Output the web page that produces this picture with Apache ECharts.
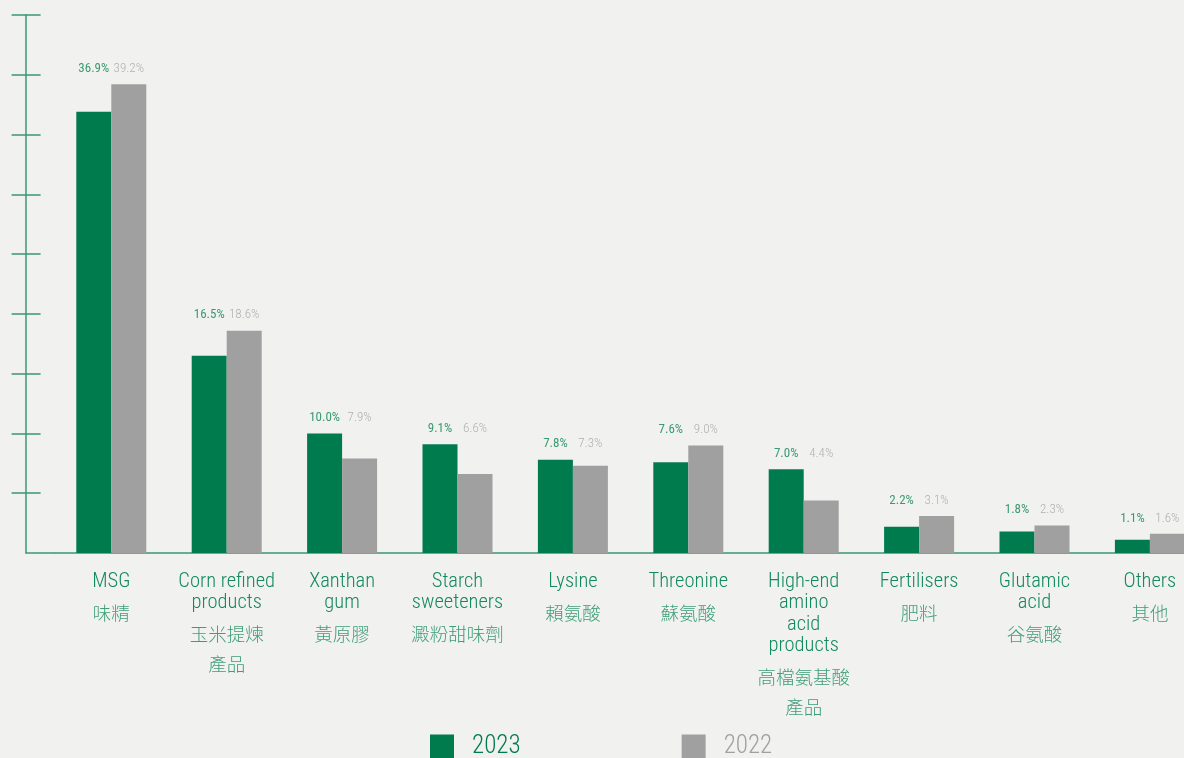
<!DOCTYPE html>
<html>
<head>
<meta charset="utf-8">
<script src="https://cdn.jsdelivr.net/npm/echarts@6/dist/echarts.min.js"></script>
<style>
  html, body { margin: 0; padding: 0; background: #f1f1f0; }
  #chart { width: 1184px; height: 758px; }
</style>
</head>
<body>
<div id="chart"></div>
<script>
  // categories (English / Chinese)
  const categoriesEn = ['MSG', 'Corn refined\nproducts', 'Xanthan\ngum', 'Starch\nsweeteners', 'Lysine',
    'Threonine', 'High-end\namino\nacid\nproducts', 'Fertilisers', 'Glutamic\nacid', 'Others']
  const categoriesZh = ['味精', '玉米提煉\n產品', '黃原膠', '澱粉甜味劑', '賴氨酸',
    '蘇氨酸', '高檔氨基酸\n產品', '肥料', '谷氨酸', '其他']
  // revenue share, %
  const share2023 = [36.9, 16.5, 10.0, 9.1, 7.8, 7.6, 7.0, 2.2, 1.8, 1.1]
  const share2022 = [39.2, 18.6, 7.9, 6.6, 7.3, 9.0, 4.4, 3.1, 2.3, 1.6]
  const yTicks = [5, 10, 15, 20, 25, 30, 35, 40, 45]

  const GREEN = '#007b4e'
  const GREY = '#a0a0a0'
  const AXIS = '#3a9872'
  const GRID_LEFT = 53.6
  const Y_OFFSET = 28
  const GRID_BOTTOM = 205
  const NARROW = "'Roboto Condensed', 'Roboto', sans-serif"

  // label spot = the taller bar of each pair
  const groupTop = share2023.map((v, i) => Math.max(v, share2022[i]))

  let myChart = echarts.init(document.getElementById('chart'))

  const yAxisBase = {
    type: 'value', min: 0, max: 45, interval: 5,
    position: 'left', offset: Y_OFFSET,
    axisLabel: { show: false },
    splitLine: { show: false }
  }

  myChart.setOption({
    backgroundColor: '#f1f1f0',
    animation: false,
    grid: { left: GRID_LEFT, width: 1154, top: 15, bottom: GRID_BOTTOM, outerBoundsMode: 'none', containLabel: false },
    legend: {
      data: [
        { name: '2023', textStyle: { color: GREEN } },
        { name: '2022', textStyle: { color: GREY } }
      ],
      left: 430, top: 734, padding: 0,
      icon: 'rect', itemWidth: 24, itemHeight: 24, itemGap: 161,
      textStyle: { fontFamily: NARROW, fontWeight: 300, fontSize: 25, padding: [0, 0, 0, 13] }
    },
    xAxis: [
      {
        type: 'category',
        data: categoriesEn,
        axisLine: { lineStyle: { color: AXIS, width: 1.5 } },
        axisTick: { show: false },
        axisLabel: {
          interval: 0,
          margin: 18,
          formatter: (value, idx) => {
            const en = categoriesEn[idx].split('\n').map(s => '{en|' + s + '}')
            const zh = categoriesZh[idx].split('\n').map(s => '{zh|' + s + '}')
            return en.join('\n') + '\n{sp| }\n' + zh.join('\n')
          },
          rich: {
            en: { fontFamily: NARROW, fontWeight: 300, fontSize: 20.5, lineHeight: 21.5, color: '#138a5c' },
            sp: { fontSize: 2, lineHeight: 5 },
            zh: { fontFamily: "'Noto Sans CJK TC', sans-serif", fontWeight: 300, fontSize: 18.5, lineHeight: 30, color: '#3f9d76' }
          }
        }
      },
      { type: 'category', data: categoriesEn, show: false }
    ],
    yAxis: [
      Object.assign({}, yAxisBase, {
        axisLine: { show: true, lineStyle: { color: AXIS, width: 1.5 } },
        axisTick: { show: true, length: 14, customValues: yTicks, lineStyle: { color: AXIS, width: 1.5 } }
      }),
      Object.assign({}, yAxisBase, {
        axisLine: { show: false },
        axisTick: { show: true, inside: true, length: 15, customValues: yTicks, lineStyle: { color: AXIS, width: 1.5 } }
      })
    ],
    graphic: [
      {
        // short stretch of the baseline between the y axis and the grid
        type: 'line',
        shape: { x1: GRID_LEFT - Y_OFFSET, y1: 758 - GRID_BOTTOM, x2: GRID_LEFT, y2: 758 - GRID_BOTTOM },
        style: { stroke: AXIS, lineWidth: 1.5 },
        silent: true
      }
    ],
    series: [
      {
        name: '2023', type: 'bar', barWidth: 35, barGap: '0%',
        itemStyle: { color: GREEN },
        data: share2023
      },
      {
        name: '2022', type: 'bar', barWidth: 35, barGap: '0%',
        itemStyle: { color: GREY },
        data: share2022
      },
      {
        name: 'label2023', type: 'bar', xAxisIndex: 1, barWidth: 35, barGap: '0%', silent: true,
        itemStyle: { color: 'rgba(0,0,0,0)' },
        label: {
          show: true, position: 'top', distance: 9,
          fontFamily: NARROW, fontWeight: 400, fontSize: 13, color: '#3a9a70',
          formatter: p => share2023[p.dataIndex].toFixed(1) + '%'
        },
        data: groupTop
      },
      {
        name: 'label2022', type: 'bar', xAxisIndex: 1, barWidth: 35, barGap: '0%', silent: true,
        itemStyle: { color: 'rgba(0,0,0,0)' },
        label: {
          show: true, position: 'top', distance: 9,
          fontFamily: NARROW, fontWeight: 300, fontSize: 13, color: '#b0b0b0',
          formatter: p => share2022[p.dataIndex].toFixed(1) + '%'
        },
        data: groupTop
      }
    ]
  })
</script>
</body>
</html>
